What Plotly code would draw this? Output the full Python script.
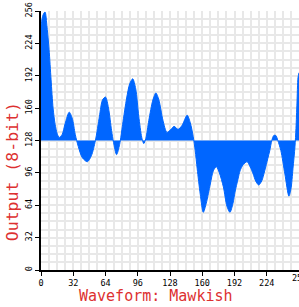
import plotly.graph_objects as go

# Waveform samples (sample index, 8-bit output)
sample_x = [0, 2, 4, 6, 8, 10, 12, 14, 16, 18, 21, 24, 28, 31, 34, 37, 41, 46, 50, 54,
            58, 61, 64, 67, 70, 72, 75, 78, 81, 85, 88, 91, 94, 97, 100, 102, 104, 107,
            111, 114, 117, 121, 125, 129, 132, 136, 140, 145, 148, 151, 153, 155, 158,
            161, 164, 168, 171, 174, 177, 181, 184.5, 187.5, 190.5, 192.5, 195.5, 197.5,
            200.5, 204.5, 207.5, 210.5, 213, 216, 219, 222, 225, 227, 229, 231, 233, 235,
            238, 242, 246, 248, 250, 252, 253, 254, 255, 256]
sample_y = [242, 252, 255, 240, 218, 188, 160, 144, 135, 131, 134, 145, 156, 150, 134, 122, 111, 107, 113, 128,
            152, 168, 171, 160, 138, 126, 114, 124, 144, 170, 184, 189, 179, 152, 131, 125, 130, 148,
            168, 175, 168, 148, 136, 139, 142, 139, 143, 153, 146, 132, 118, 100, 75,
            57, 66, 85, 98, 102, 96, 82, 63, 57, 66, 77, 90, 98,
            104, 107, 102, 95, 88, 84, 88, 98, 110, 118, 128, 133, 133, 128,
            118, 95, 73, 80, 100, 122, 140, 165, 190, 195]

baseline_level = 128
axis_ticks = [0, 32, 64, 96, 128, 160, 192, 224, 256]
x_tick_labels = ["0", "32", "64", "96", "128", "160", "192", "224", ""]
x_edge_label = "256"
y_tick_labels = [str(t) for t in axis_ticks]
x_title = "Waveform: Mawkish"
y_title = "Output (8-bit)"

blue = "#0066ff"
red = "#dd3030"
grid = "#e8e8e8"
mono = "DejaVu Sans Mono"

fig = go.Figure()
fig.add_trace(go.Scatter(x=[sample_x[0], sample_x[-1]], y=[baseline_level, baseline_level],
                         mode="lines", line=dict(width=0, color=blue), hoverinfo="skip",
                         showlegend=False))
fig.add_trace(go.Scatter(x=sample_x, y=sample_y, mode="lines",
                         line=dict(shape="spline", smoothing=0.8, width=1, color=blue),
                         fill="tonexty", fillcolor=blue, showlegend=False))

axis_common = dict(
    range=[0, 256], tickvals=axis_ticks,
    showgrid=True, gridcolor=grid, gridwidth=2,
    minor=dict(dtick=8, tick0=0, showgrid=True, gridcolor=grid, gridwidth=2),
    ticks="outside", ticklen=4, tickcolor="black", tickwidth=1,
    showline=True, linecolor="black", linewidth=1.5, zeroline=False,
    tickfont=dict(family=mono, size=8.5, color="black"),
)

fig.update_layout(
    width=299, height=307,
    margin=dict(l=41, r=0, t=11, b=37),
    paper_bgcolor="white", plot_bgcolor="white",
    xaxis=dict(**axis_common, ticktext=x_tick_labels),
    yaxis=dict(**axis_common, ticktext=y_tick_labels, tickangle=-90),
    annotations=[
        dict(text=x_edge_label, xref="x", yref="paper", x=axis_ticks[-1], y=-0.031,
             xanchor="center", yanchor="middle", showarrow=False,
             font=dict(family=mono, size=8.5, color="black")),
        dict(text=x_title, xref="paper", yref="paper", x=0.444, y=-0.10,
             xanchor="center", yanchor="middle", showarrow=False,
             font=dict(family=mono, size=15, color=red)),
        dict(text=y_title, xref="paper", yref="paper", x=-0.112, y=0.378,
             xanchor="center", yanchor="middle", showarrow=False, textangle=-90,
             font=dict(family=mono, size=16.5, color=red)),
    ],
)

fig.write_html("out.html", config={"displayModeBar": False},
               post_script="document.body.style.margin='0px';")
